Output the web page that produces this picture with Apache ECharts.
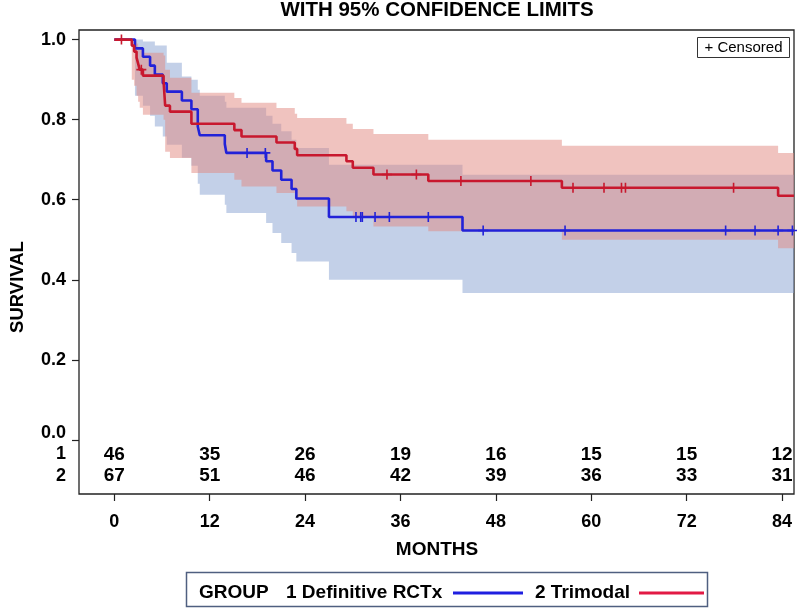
<!DOCTYPE html>
<html><head><meta charset="utf-8">
<script src="https://cdn.jsdelivr.net/npm/echarts@6/dist/echarts.min.js"></script>
<style>html,body{margin:0;padding:0;background:#fff}#c{width:797px;height:613px}</style>
</head><body><div id="c"></div>
<script>
// ---------------- DATA ----------------
const groupNames = ['1 Definitive RCTx', '2 Trimodal'];
const xTickValues = [0, 12, 24, 36, 48, 60, 72, 84];
const yTickValues = [0, 0.2, 0.4, 0.6, 0.8, 1.0];
const riskTimes = [0, 12, 24, 36, 48, 60, 72, 84];
const atRisk1 = [46, 35, 26, 19, 16, 15, 15, 12];
const atRisk2 = [67, 51, 46, 42, 39, 36, 33, 31];

// Group 1 (Definitive RCTx): step starts, survival and 95% limits
const time1  = [0, 2.6, 3.6, 4.5, 5.1, 6.1, 6.6, 8.5, 9.7, 10.5, 10.75, 13.9, 14.1, 19.1, 19.9, 21.0, 22.3, 22.9, 27.0, 43.8, 85.5];
const surv1  = [1.0, 0.978, 0.957, 0.935, 0.913, 0.891, 0.870, 0.848, 0.826, 0.783, 0.761, 0.739, 0.717, 0.696, 0.673, 0.650, 0.627, 0.603, 0.557, 0.523, 0.523];
const lower1 = [1.0, 0.86, 0.835, 0.81, 0.783, 0.758, 0.7375, 0.705, 0.685, 0.64, 0.6125, 0.5875, 0.567, 0.542, 0.517, 0.492, 0.467, 0.446, 0.40, 0.367, 0.367];
const upper1 = [1.0, 1.0, 0.995, 0.995, 0.985, 0.985, 0.942, 0.908, 0.90, 0.875, 0.86, 0.845, 0.83, 0.81, 0.79, 0.771, 0.75, 0.729, 0.6875, 0.6625, 0.6625];
const censor1 = [16.7, 19.0, 30.4, 31.0, 31.2, 32.8, 34.6, 39.5, 46.4, 56.7, 76.9, 80.6, 83.5, 85.3];

// Group 2 (Trimodal)
const time2  = [0, 2.2, 2.5, 2.8, 3.0, 3.2, 3.6, 6.2, 6.4, 7.0, 9.7, 15.1, 16.0, 20.4, 22.7, 23.0, 29.2, 30.0, 32.6, 39.5, 56.3, 83.5, 85.5];
const surv2  = [1.0, 0.985, 0.970, 0.955, 0.940, 0.925, 0.910, 0.895, 0.835, 0.820, 0.790, 0.774, 0.758, 0.743, 0.727, 0.711, 0.696, 0.680, 0.663, 0.647, 0.630, 0.610, 0.610];
const lower2 = [1.0, 0.90, 0.885, 0.86, 0.845, 0.83, 0.8125, 0.80, 0.72, 0.704, 0.667, 0.65, 0.633, 0.617, 0.60, 0.583, 0.571, 0.558, 0.533, 0.521, 0.50, 0.479, 0.479];
const upper2 = [1.0, 0.998, 0.995, 0.99, 0.982, 0.975, 0.967, 0.96, 0.925, 0.905, 0.867, 0.854, 0.842, 0.829, 0.815, 0.804, 0.79, 0.777, 0.764, 0.75, 0.735, 0.717, 0.717];
const censor2 = [0.9, 3.4, 34.3, 38.0, 43.6, 52.4, 57.7, 61.6, 63.8, 64.3, 77.9];

// ---------------- LAYOUT / STYLE ----------------
const FONT = '"Liberation Sans", Arial, Helvetica, sans-serif';
const BLUE = '#2222d8', RED = '#c8182e';
const BLUE_BAND = 'rgba(135,161,209,0.5)', RED_BAND = 'rgba(226,136,128,0.5)';
const ROW1 = -0.036, ROW2 = -0.090;
const PLUS = 'path://M4.2,0h1.6v4.2h4.2v1.6h-4.2v4.2h-1.6v-4.2h-4.2v-1.6h4.2z';

function survAt(times, surv, t) {
  let s = surv[0];
  for (let i = 0; i < times.length; i++) if (times[i] <= t) s = surv[i];
  return s;
}
function band(times, lo, up, color) {
  return {type:'custom', silent:true, z:1, clip:true, data:[[times[0], up[0]]],
    renderItem:function(params, api){
      const pts = [];
      for (let i = 0; i < times.length - 1; i++) {
        pts.push(api.coord([times[i], up[i]]), api.coord([times[i+1], up[i]]));
      }
      for (let i = times.length - 2; i >= 0; i--) {
        pts.push(api.coord([times[i+1], lo[i]]), api.coord([times[i], lo[i]]));
      }
      return {type:'polygon', shape:{points:pts}, style:{fill:color}};
    }};
}
function curve(times, surv, color) {
  return {type:'line', step:'end', symbol:'none', silent:true, z:3,
    lineStyle:{color:color, width:2.6}, data: times.map((t,i)=>[t, surv[i]])};
}
function censors(cs, times, surv, color) {
  return {type:'scatter', symbol:PLUS, symbolSize:10, silent:true, z:4,
    itemStyle:{color:color, opacity:1}, data: cs.map(t=>[t, survAt(times, surv, t)])};
}
function riskRow(vals, row) {
  return {type:'scatter', symbolSize:1, silent:true, z:5, itemStyle:{color:'#fff', opacity:1},
    label:{show:true, position:'inside', formatter:p=>String(p.value[2]),
      color:'#000', opacity:1, fontFamily:FONT, fontWeight:'bold', fontSize:19},
    data: riskTimes.map((t,i)=>[t, row, vals[i]])};
}

const labelFont = {color:'#000', fontFamily:FONT, fontWeight:'bold', fontSize:18};

const option = {
  animation:false,
  backgroundColor:'#fff',
  grid:{left:79, right:3, top:30, bottom:119, show:true, borderColor:'#222', borderWidth:1.3, backgroundColor:'transparent'},
  xAxis:{type:'value', min:-4.44, max:85.5, position:'bottom',
    axisLine:{show:false, onZero:false}, splitLine:{show:false},
    axisTick:{show:true, customValues:xTickValues, length:7, inside:false, lineStyle:{color:'#222', width:1.2}},
    axisLabel:Object.assign({customValues:xTickValues, margin:19}, labelFont)},
  yAxis:{type:'value', min:-0.135, max:1.024, position:'left',
    axisLine:{show:false, onZero:false}, splitLine:{show:false},
    axisTick:{show:true, customValues:yTickValues, length:7, inside:false, lineStyle:{color:'#222', width:1.2}},
    axisLabel:Object.assign({customValues:[ROW2, ROW1].concat(yTickValues), margin:13,
      formatter:v=>{ if (v < -0.06) return '2'; if (v < 0) return '1'; if (Math.abs(v) < 1e-9) return '{z|0.0}'; return v.toFixed(1); },
      rich:{z:{color:'#000', fontFamily:FONT, fontWeight:'bold', fontSize:18, padding:[0,0,14,0]}}}, labelFont)},
  series:[
    band(time1, lower1, upper1, BLUE_BAND),
    band(time2, lower2, upper2, RED_BAND),
    curve(time1, surv1, BLUE), curve(time2, surv2, RED),
    censors(censor1, time1, surv1, BLUE), censors(censor2, time2, surv2, RED),
    riskRow(atRisk1, ROW1), riskRow(atRisk2, ROW2)
  ],
  graphic:[
    {type:'text', x:437, y:10, style:{text:'WITH 95% CONFIDENCE LIMITS', textAlign:'center', textVerticalAlign:'middle', fill:'#000', font:'bold 20.5px '+FONT}},
    {type:'text', x:18, y:287, rotation:Math.PI/2, style:{text:'SURVIVAL', textAlign:'center', textVerticalAlign:'middle', fill:'#000', font:'bold 18.5px '+FONT}},
    {type:'text', x:437, y:550, style:{text:'MONTHS', textAlign:'center', textVerticalAlign:'middle', fill:'#000', font:'bold 19px '+FONT}},
    {type:'rect', shape:{x:697.5, y:37.5, width:92, height:20}, style:{fill:'#fff', stroke:'#333', lineWidth:1}, z:10},
    {type:'text', x:743.5, y:48, z:11, style:{text:'+ Censored', textAlign:'center', textVerticalAlign:'middle', fill:'#000', font:'15px '+FONT}},
    {type:'rect', shape:{x:186.5, y:572.5, width:521, height:34}, style:{fill:'#fff', stroke:'#4f5f80', lineWidth:1.5}},
    {type:'text', x:199, y:593, style:{text:'GROUP', textAlign:'left', textVerticalAlign:'middle', fill:'#000', font:'bold 19px '+FONT}},
    {type:'text', x:286, y:593, style:{text:groupNames[0], textAlign:'left', textVerticalAlign:'middle', fill:'#000', font:'bold 19px '+FONT}},
    {type:'line', shape:{x1:453, y1:593, x2:523, y2:593}, style:{stroke:'#1f1fe0', lineWidth:3}},
    {type:'text', x:535, y:593, style:{text:groupNames[1], textAlign:'left', textVerticalAlign:'middle', fill:'#000', font:'bold 19px '+FONT}},
    {type:'line', shape:{x1:639, y1:593, x2:704, y2:593}, style:{stroke:'#e21a44', lineWidth:3}}
  ]
};
const chart = echarts.init(document.getElementById('c'), null, {renderer:'canvas'});
chart.setOption(option);
</script>
</body></html>
